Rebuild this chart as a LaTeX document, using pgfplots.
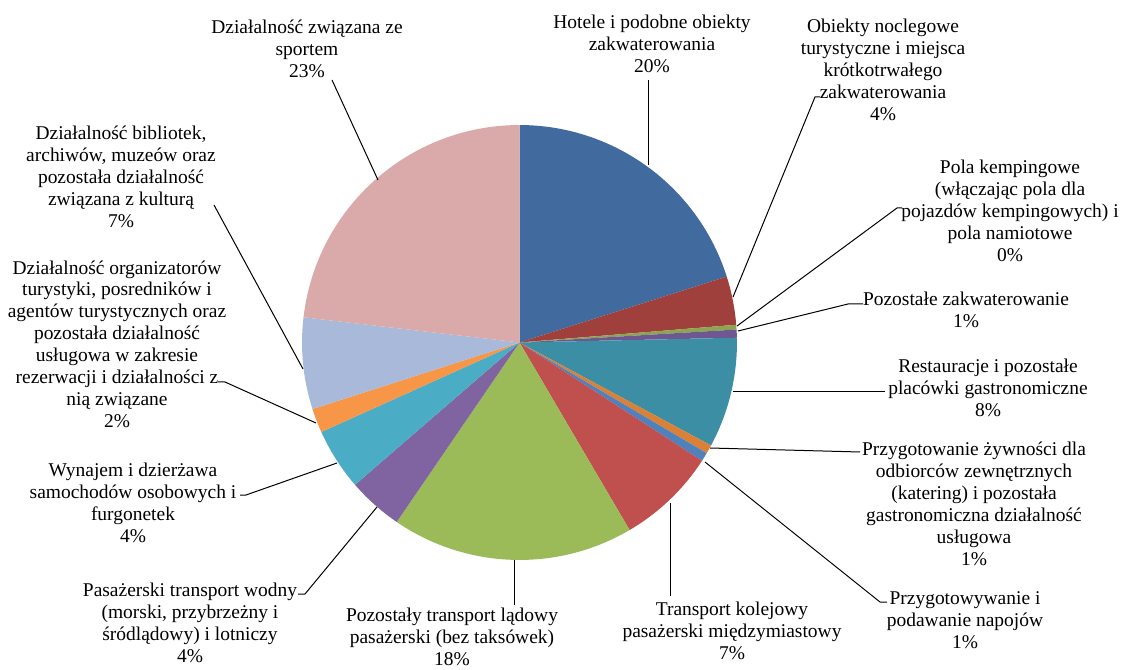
\documentclass[border=0pt]{standalone}
\usepackage{fontspec}
\setmainfont{Liberation Serif}
\usepackage{pgfplots}
\usepackage{pgfplotstable}
\pgfplotsset{compat=1.18}

\definecolor{c1}{HTML}{416A9E}
\definecolor{c2}{HTML}{A0403D}
\definecolor{c3}{HTML}{8BA64F}
\definecolor{c4}{HTML}{6F5791}
\definecolor{c5}{HTML}{3C8EA4}
\definecolor{c6}{HTML}{DA8137}
\definecolor{c7}{HTML}{4F81BD}
\definecolor{c8}{HTML}{C0504D}
\definecolor{c9}{HTML}{9BBB59}
\definecolor{c10}{HTML}{8064A2}
\definecolor{c11}{HTML}{4BACC6}
\definecolor{c12}{HTML}{F79646}
\definecolor{c13}{HTML}{A9B9D9}
\definecolor{c14}{HTML}{D9AAA9}

\tikzset{
  lbl/.style={align=center, inner sep=0pt, font=\fontsize{14.6}{16.4}\selectfont},
  leader/.style={black, line width=0.75pt},
}

% share of each slice in percent, clockwise from 12 o'clock
\pgfplotstableread{
share colour
20.1  c1
3.6   c2
0.35  c3
0.6   c4
8.2   c5
0.65  c6
0.65  c7
7.4   c8
18.0  c9
4.1   c10
4.6   c11
1.8   c12
6.8   c13
23.15 c14
}\piedata

\begin{document}
\begin{tikzpicture}
\begin{axis}[
    scale only axis,
    width=841.5pt, height=502.5pt,
    xmin=0, xmax=1122, ymin=0, ymax=670,
    y dir=reverse,
    hide axis,
    clip=false,
]
\path (axis cs:0,0) rectangle (axis cs:1122,670);

\pgfplotstablegetrowsof{\piedata}
\pgfmathtruncatemacro\lastrow{\pgfplotsretval-1}
\def\astart{90}
\pgfplotsforeachungrouped \i in {0,...,\lastrow}{%
  \pgfplotstablegetelem{\i}{share}\of\piedata
  \let\share\pgfplotsretval
  \pgfplotstablegetelem{\i}{colour}\of\piedata
  \let\slicecol\pgfplotsretval
  \pgfmathsetmacro\aend{\astart-3.6*\share}
  \edef\slice{\noexpand\fill[\slicecol] (axis cs:519.5,342.5) -- ++(\astart:163.1pt)
    arc[start angle=\astart, end angle=\aend, radius=163.1pt] -- cycle;}
  \slice
  \global\let\astart\aend
}

% leader lines
\draw[leader] (axis cs:648,80) -- (axis cs:648,165);
\draw[leader] (axis cs:820,97) -- (axis cs:815,97) -- (axis cs:733,297);
\draw[leader] (axis cs:902,208) -- (axis cs:897,208) -- (axis cs:737,326);
\draw[leader] (axis cs:863,304) -- (axis cs:848,304) -- (axis cs:738,331);
\draw[leader] (axis cs:733,392) -- (axis cs:885,392);
\draw[leader] (axis cs:710,448) -- (axis cs:860,452);
\draw[leader] (axis cs:705,462) -- (axis cs:880,602) -- (axis cs:887,602);
\draw[leader] (axis cs:670,503) -- (axis cs:670,596);
\draw[leader] (axis cs:514,560) -- (axis cs:514,605);
\draw[leader] (axis cs:298,594) -- (axis cs:305,594) -- (axis cs:377,507);
\draw[leader] (axis cs:240,495) -- (axis cs:246,495) -- (axis cs:337,463);
\draw[leader] (axis cs:218,382) -- (axis cs:225,382) -- (axis cs:316,423);
\draw[leader] (axis cs:214,205) -- (axis cs:303,369);
\draw[leader] (axis cs:332,80) -- (axis cs:378,180);

% labels
\node[lbl] at (axis cs:652,44) {Hotele i podobne obiekty\\zakwaterowania\\20\%};
\node[lbl] at (axis cs:883,70) {Obiekty noclegowe\\turystyczne i miejsca\\krótkotrwałego\\zakwaterowania\\4\%};
\node[lbl] at (axis cs:1010,211) {Pola kempingowe\\(włączając pola dla\\pojazdów kempingowych) i\\pola namiotowe\\0\%};
\node[lbl] at (axis cs:966,310) {Pozostałe zakwaterowanie\\1\%};
\node[lbl] at (axis cs:988,388) {Restauracje i pozostałe\\placówki gastronomiczne\\8\%};
\node[lbl] at (axis cs:974,504) {Przygotowanie żywności dla\\odbiorców zewnętrznych\\(katering) i pozostała\\gastronomiczna działalność\\usługowa\\1\%};
\node[lbl] at (axis cs:965,620) {Przygotowywanie i\\podawanie napojów\\1\%};
\node[lbl] at (axis cs:732,631) {Transport kolejowy\\pasażerski międzymiastowy\\7\%};
\node[lbl] at (axis cs:452,637) {Pozostały transport lądowy\\pasażerski (bez taksówek)\\18\%};
\node[lbl] at (axis cs:190,623) {Pasażerski transport wodny\\(morski, przybrzeżny i\\śródlądowy) i lotniczy\\4\%};
\node[lbl] at (axis cs:133,503) {Wynajem i dzierżawa\\samochodów osobowych i\\furgonetek\\4\%};
\node[lbl] at (axis cs:117,344) {Działalność organizatorów\\turystyki, posredników i\\agentów turystycznych oraz\\pozostała działalność\\usługowa w zakresie\\rezerwacji i działalności z\\nią związane\\2\%};
\node[lbl] at (axis cs:121,177) {Działalność bibliotek,\\archiwów, muzeów oraz\\pozostała działalność\\związana z kulturą\\7\%};
\node[lbl] at (axis cs:307,49) {Działalność związana ze\\sportem\\23\%};
\end{axis}
\end{tikzpicture}
\end{document}
